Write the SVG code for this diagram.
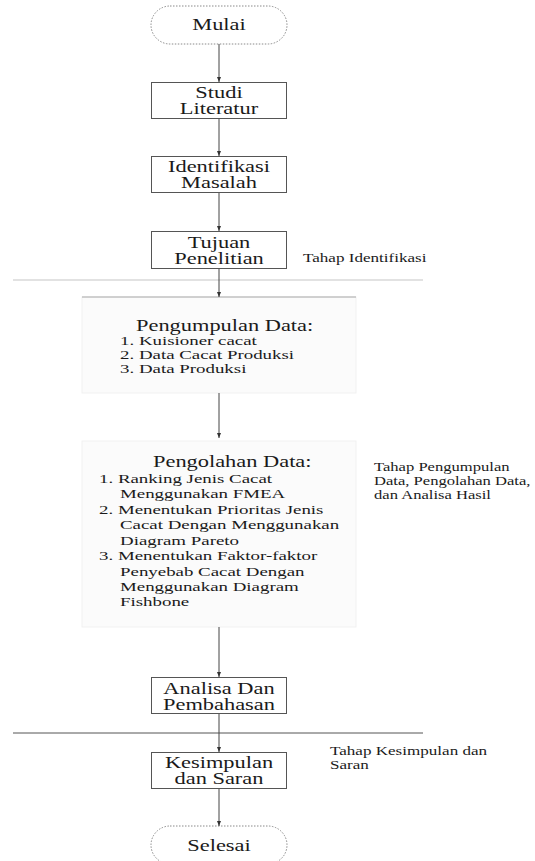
<svg xmlns="http://www.w3.org/2000/svg" width="535" height="861" viewBox="0 0 535 861" font-family="'Liberation Serif', 'DejaVu Serif', serif">
<style>
  text { font-family: 'Liberation Serif', 'DejaVu Serif', serif; fill: #1a1a1a; }
  .bt { font-size: 16px; text-anchor: middle; }
  .tt { font-size: 16px; }
  .li { font-size: 13.5px; }
  .sm { font-size: 12.2px; }
  .box { fill: #ffffff; stroke: #555555; stroke-width: 1; }
  .term { fill: #ffffff; stroke: #8a8a8a; stroke-width: 1; stroke-dasharray: 1.5 1.5; }
  .panel { fill: #fbfbfb; stroke: #f1f1f1; stroke-width: 1; }
  .conn { stroke: #444444; stroke-width: 1; fill: none; marker-end: url(#ah); }
</style>
<defs>
  <marker id="ah" markerWidth="6" markerHeight="6" refX="5" refY="3" orient="auto" markerUnits="userSpaceOnUse">
    <path d="M0,1 L5,3 L0,5 Z" fill="#333333"/>
  </marker>
</defs>
<rect width="535" height="861" fill="#ffffff"/>

<g id="separators">
  <line x1="13" y1="280" x2="423" y2="280" stroke="#e2e2e2" stroke-width="2"/>
  <line x1="13" y1="733" x2="423" y2="733" stroke="#555555" stroke-width="1"/>
</g>

<g id="n-mulai">
  <rect class="term" x="151" y="6" width="136" height="38" rx="19" ry="19"/>
  <g transform="translate(219 0) scale(1.4 1)"><text class="bt" x="0" y="30">Mulai</text></g>
</g>

<g id="n-studi">
  <rect class="box" x="151.5" y="82.5" width="135" height="36"/>
  <g transform="translate(219 0) scale(1.4 1)"><text class="bt" x="0" y="98">Studi</text><text class="bt" x="0" y="114">Literatur</text></g>
</g>

<g id="n-identifikasi">
  <rect class="box" x="151.5" y="156.5" width="135" height="36"/>
  <g transform="translate(219 0) scale(1.4 1)"><text class="bt" x="0" y="172">Identifikasi</text><text class="bt" x="0" y="188">Masalah</text></g>
</g>

<g id="n-tujuan">
  <rect class="box" x="151.5" y="231.5" width="135" height="37"/>
  <g transform="translate(219 0) scale(1.4 1)"><text class="bt" x="0" y="248">Tujuan</text><text class="bt" x="0" y="264">Penelitian</text></g>
</g>

<g id="lbl-identifikasi">
  <g transform="translate(303 0) scale(1.4 1)"><text class="sm" x="0" y="262">Tahap Identifikasi</text></g>
</g>

<g id="n-pengumpulan">
  <rect class="panel" x="82" y="297" width="274" height="96"/>
  <line x1="82" y1="297" x2="356" y2="297" stroke="#a8a8a8" stroke-width="1"/>
  <g transform="translate(136 0) scale(1.4 1)"><text class="tt" x="0" y="331">Pengumpulan Data:</text></g>
  <g transform="translate(120 0) scale(1.4 1)">
    <text class="li" x="0" y="345">1. Kuisioner cacat</text>
    <text class="li" x="0" y="359">2. Data Cacat Produksi</text>
    <text class="li" x="0" y="373">3. Data Produksi</text>
  </g>
</g>

<g id="n-pengolahan">
  <rect class="panel" x="82" y="441" width="274" height="186"/>
  <g transform="translate(153 0) scale(1.4 1)"><text class="tt" x="0" y="467">Pengolahan Data:</text></g>
  <g transform="translate(99 0) scale(1.4 1)">
    <text class="li" x="0" y="483">1. Ranking  Jenis Cacat</text>
    <text class="li" x="0" y="514">2. Menentukan Prioritas Jenis</text>
    <text class="li" x="0" y="560">3. Menentukan Faktor-faktor</text>
  </g>
  <g transform="translate(120 0) scale(1.4 1)">
    <text class="li" x="0" y="498">Menggunakan FMEA</text>
    <text class="li" x="0" y="529">Cacat Dengan Menggunakan</text>
    <text class="li" x="0" y="545">Diagram Pareto</text>
    <text class="li" x="0" y="576">Penyebab Cacat Dengan</text>
    <text class="li" x="0" y="591">Menggunakan Diagram</text>
    <text class="li" x="0" y="606">Fishbone</text>
  </g>
</g>

<g id="lbl-pengumpulan">
  <g transform="translate(374 0) scale(1.36 1)">
    <text class="sm" x="0" y="471">Tahap Pengumpulan</text>
    <text class="sm" x="0" y="485">Data, Pengolahan Data,</text>
    <text class="sm" x="0" y="499">dan Analisa Hasil</text>
  </g>
</g>

<g id="n-analisa">
  <rect class="box" x="151.5" y="677.5" width="135" height="36"/>
  <g transform="translate(219 0) scale(1.4 1)"><text class="bt" x="0" y="694">Analisa Dan</text><text class="bt" x="0" y="710">Pembahasan</text></g>
</g>

<g id="n-kesimpulan">
  <rect class="box" x="151.5" y="752.5" width="135" height="36"/>
  <g transform="translate(219 0) scale(1.4 1)"><text class="bt" x="0" y="768">Kesimpulan</text><text class="bt" x="0" y="784">dan Saran</text></g>
</g>

<g id="lbl-kesimpulan">
  <g transform="translate(330 0) scale(1.4 1)">
    <text class="sm" x="0" y="755">Tahap Kesimpulan dan</text>
    <text class="sm" x="0" y="769">Saran</text>
  </g>
</g>

<g id="n-selesai">
  <rect class="term" x="151" y="826" width="136" height="38" rx="19" ry="19"/>
  <g transform="translate(219 0) scale(1.4 1)"><text class="bt" x="0" y="851">Selesai</text></g>
</g>

<g id="connectors">
  <line class="conn" x1="219" y1="44" x2="219" y2="82"/>
  <line class="conn" x1="219" y1="119" x2="219" y2="156"/>
  <line class="conn" x1="219" y1="193" x2="219" y2="231"/>
  <line class="conn" x1="219" y1="269" x2="219" y2="297"/>
  <line class="conn" x1="219" y1="393" x2="219" y2="438"/>
  <line class="conn" x1="219" y1="627" x2="219" y2="677"/>
  <line class="conn" x1="219" y1="714" x2="219" y2="752"/>
  <line class="conn" x1="219" y1="789" x2="219" y2="826"/>
</g>
</svg>
